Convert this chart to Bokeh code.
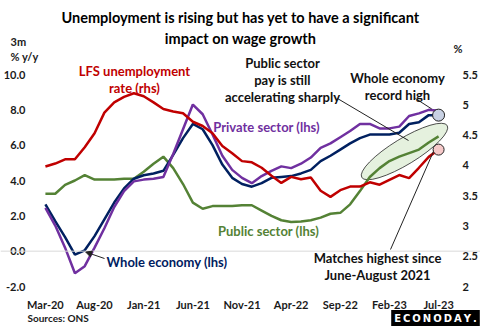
from bokeh.plotting import figure
from bokeh.models import (Range1d, LinearAxis, FixedTicker, Span, Label, Arrow,
                          NormalHead, PrintfTickFormatter)
from bokeh.embed import file_html
from bokeh.resources import INLINE

# ---------------- data ----------------
months = ["Mar-20", "Apr-20", "May-20", "Jun-20", "Jul-20", "Aug-20", "Sep-20", "Oct-20",
          "Nov-20", "Dec-20", "Jan-21", "Feb-21", "Mar-21", "Apr-21", "May-21", "Jun-21",
          "Jul-21", "Aug-21", "Sep-21", "Oct-21", "Nov-21", "Dec-21", "Jan-22", "Feb-22",
          "Mar-22", "Apr-22", "May-22", "Jun-22", "Jul-22", "Aug-22", "Sep-22", "Oct-22",
          "Nov-22", "Dec-22", "Jan-23", "Feb-23", "Mar-23", "Apr-23", "May-23", "Jun-23",
          "Jul-23"]
tick_labels = ["Mar-20", "Aug-20", "Jan-21", "Jun-21", "Nov-21", "Apr-22", "Sep-22",
               "Feb-23", "Jul-23"]

whole_economy = [2.65, 1.7, 0.8, -0.2, 0.05, 0.85, 1.8, 2.75, 3.55, 4.1, 4.3, 4.4, 4.55,
                 5.45, 6.4, 7.2, 6.9, 6.0, 4.9, 4.15, 3.8, 3.65, 3.85, 4.15, 4.2, 4.25,
                 4.4, 4.6, 5.1, 5.4, 5.75, 6.1, 6.4, 6.6, 6.6, 6.6, 6.7, 7.2, 7.3, 7.7, 7.7]
private_sector = [2.45, 1.45, 0.2, -1.25, -0.85, 0.2, 1.3, 2.5, 3.4, 3.95, 4.05, 4.1, 4.2,
                  5.5, 6.9, 8.3, 7.75, 6.6, 5.4, 4.6, 4.15, 3.85, 4.25, 4.55, 4.8, 4.7,
                  4.95, 5.3, 5.85, 6.1, 6.45, 6.8, 7.2, 7.2, 6.95, 6.95, 7.05, 7.65, 7.8,
                  8.0, 7.95]
public_sector = [3.25, 3.25, 3.75, 4.0, 4.3, 4.05, 4.05, 4.05, 4.1, 4.1, 4.5, 4.95, 5.35,
                 4.7, 3.8, 2.75, 2.4, 2.55, 2.55, 2.55, 2.6, 2.6, 2.3, 2.0, 1.75, 1.65,
                 1.68, 1.75, 1.9, 2.12, 2.17, 2.65, 3.4, 4.2, 4.7, 5.1, 5.35, 5.55, 5.75,
                 6.15, 6.5]
unemployment = [3.98, 4.03, 4.1, 4.1, 4.3, 4.53, 4.87, 5.04, 5.13, 5.19, 5.14, 5.04, 4.93,
                4.89, 4.86, 4.72, 4.65, 4.53, 4.32, 4.2, 4.07, 4.05, 3.96, 3.83, 3.71, 3.81,
                3.77, 3.8, 3.58, 3.48, 3.59, 3.65, 3.65, 3.72, 3.68, 3.76, 3.84, 3.79, 3.96,
                4.14, 4.26]

lhs_ticks = [-2, 0, 2, 4, 6, 8, 10]
rhs_ticks = [2, 2.5, 3, 3.5, 4, 4.5, 5, 5.5]

# ---------------- styling ----------------
FONT = "Lato"
RED, NAVY, PURPLE, GREEN = "#C00000", "#002060", "#7030A0", "#548235"

W, H = 480, 326
# plot-area box (pixels) in which the two value scales live
PL, PR, PT, PB = 40, 443, 74, 286
N = len(months)
XLO, XHI = -0.5, N - 0.5
YLO, YHI = -2, 10
RLO, RHI = 2, 5.5
xppu = (PR - PL) / (XHI - XLO)
yppu = (PB - PT) / (YHI - YLO)
rppu = (PB - PT) / (RHI - RLO)

# the frame covers the whole canvas; axes are pinned to the plot-area edges
p = figure(width=W, height=H,
           x_range=Range1d(XLO - PL / xppu, XHI + (W - PR) / xppu),
           y_range=Range1d(YLO - (H - PB) / yppu, YHI + PT / yppu),
           output_backend="svg", toolbar_location=None, title=None,
           min_border_left=0, min_border_right=0, min_border_top=0, min_border_bottom=0)
p.extra_y_ranges = {"rhs": Range1d(RLO - (H - PB) / rppu, RHI + PT / rppu)}
p.outline_line_color = None
p.grid.visible = False
p.background_fill_color = "white"
p.border_fill_color = "white"

def style_axis(ax):
    ax.axis_line_color = None
    ax.major_tick_line_color = None
    ax.minor_tick_line_color = None
    ax.major_label_text_font = FONT
    ax.major_label_text_font_style = "bold"
    ax.major_label_text_font_size = "11px"
    ax.major_label_text_color = "#1a1a1a"

xax = p.xaxis[0]
xax.ticker = FixedTicker(ticks=[months.index(m) for m in tick_labels])
xax.major_label_overrides = {months.index(m): m for m in tick_labels}
xax.fixed_location = YLO
style_axis(xax)
xax.major_label_standoff = 5

yax = p.yaxis[0]
yax.ticker = FixedTicker(ticks=lhs_ticks)
yax.formatter = PrintfTickFormatter(format="%.1f")
yax.fixed_location = XLO
style_axis(yax)
yax.major_label_standoff = 9

rax = LinearAxis(y_range_name="rhs", ticker=FixedTicker(ticks=rhs_ticks),
                 formatter=PrintfTickFormatter(format="%g"), fixed_location=XHI)
style_axis(rax)
rax.major_label_standoff = 13
p.add_layout(rax, "right")

p.add_layout(Span(location=0, dimension="width", line_color="#D9D9D9", line_width=1,
                  ))

# pixel -> data helpers for annotation placement
def dx(px):
    return XLO + (px - PL) / xppu

def dy(py):
    return YLO + (PB - py) / yppu

def r2l(r):
    return YLO + (r - RLO) * rppu / yppu

idx = list(range(N))
last = idx[-1]

# ellipse highlighting public sector
p.ellipse(x=dx(404), y=dy(151), width=100, height=26, width_units="screen",
          height_units="screen", angle=0.546, fill_color="#E2EFDA", fill_alpha=0.9,
          line_color="#222222", line_width=0.8)

p.line(idx, public_sector, line_color=GREEN, line_width=2.5)
p.line(idx, whole_economy, line_color=NAVY, line_width=2.5)
p.line(idx, private_sector, line_color=PURPLE, line_width=2.5)
p.line(idx, unemployment, line_color=RED, line_width=2.5, y_range_name="rhs")

# leader lines
p.segment(x0=[dx(337), dx(415), dx(390)], y0=[dy(98), dy(98), dy(249)],
          x1=[dx(408), last - 0.7, last - 0.2],
          y1=[dy(140), whole_economy[-1] + 0.35, r2l(unemployment[-1]) + 0.3],
          line_color="#222222", line_width=1)

p.scatter([last], [whole_economy[-1]], size=12, fill_color="#C8D1E3",
          line_color="#222222", line_width=1)
p.scatter([last], [unemployment[-1]], size=11, fill_color="#F6C9C9",
          line_color="#222222", line_width=1, y_range_name="rhs")

p.add_layout(Arrow(end=NormalHead(size=6, fill_color="#222222", line_color="#222222"),
                   x_start=dx(104), y_start=dy(258), x_end=idx[4] + 0.1,
                   y_end=whole_economy[4] - 0.1, line_color="#222222", line_width=1))

def lab(px, py, text, color="#111111", size="13px", bold=True, align="center", **kw):
    p.add_layout(Label(x=dx(px), y=dy(py), text=text, text_color=color,
                       text_font=kw.pop("font", FONT), text_font_size=size,
                       text_font_style="bold" if bold else "normal",
                       text_align=align, text_baseline="middle", **kw))

lab(240, 17, "Unemployment is rising but has yet to have a significant", "#000000", "14.5px")
lab(240, 38, "impact on wage growth", "#000000", "14.5px")
lab(10, 41, "3m", "#1a1a1a", "11px", align="left")
lab(10, 56, "% y/y", "#1a1a1a", "11px", align="left")
lab(453, 48, "%", "#1a1a1a", "11px", align="left")

lab(134, 70, "LFS unemployment", RED)
lab(134, 87, "rate (rhs)", RED)
lab(282, 62, "Public sector")
lab(282, 79, "pay is still")
lab(282, 96, "accelerating sharply")
lab(397, 77, "Whole economy")
lab(397, 94, "record high")
lab(266, 126, "Private sector (lhs)", PURPLE)
lab(268, 230, "Public sector (lhs)", GREEN)
lab(106, 261, "Whole economy (lhs)", NAVY, align="left")
lab(377, 257, "Matches highest since")
lab(377, 274, "June-August 2021")

lab(27, 317, "Sources: ONS", "#1a1a1a", "10px", align="left")
lab(435, 318, "E\u2009C\u2009O\u2009N\u2009O\u2009D\u2009A\u2009Y\u2009.", "white", "10px",
    font="DejaVu Sans", background_fill_color="black", padding=3)

open("out.html", "w").write(file_html(p, INLINE))
